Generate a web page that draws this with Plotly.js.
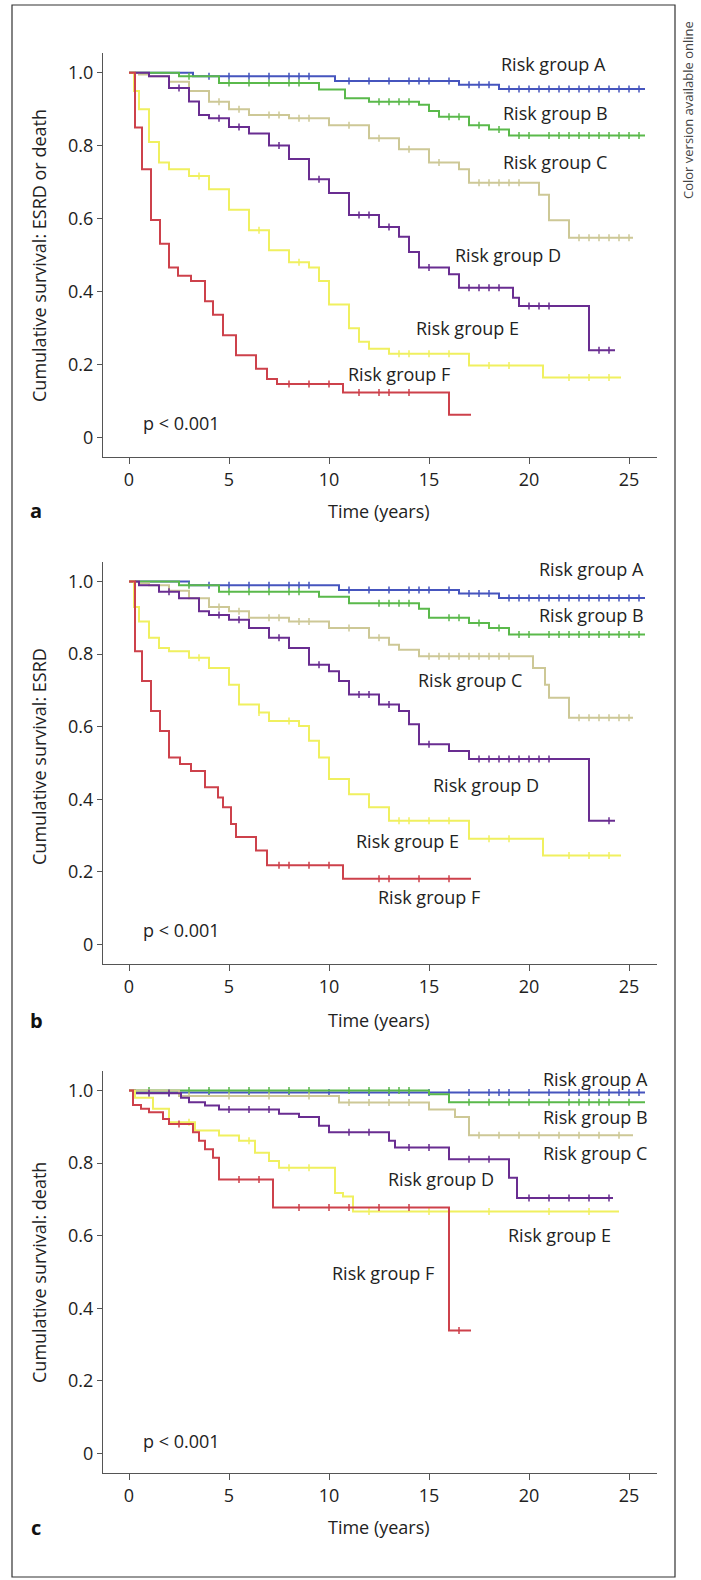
<!DOCTYPE html>
<html>
<head>
<meta charset="utf-8">
<script src="https://cdn.plot.ly/plotly-3.0.1.min.js"></script>
<style>body{margin:0;background:#fff}#chart{width:701px;height:1580px}</style>
</head>
<body>
<div id="chart"></div>
<script>
// Kaplan-Meier curves, three panels (a: ESRD or death, b: ESRD, c: death)
var groups = ['A', 'B', 'C', 'D', 'E', 'F'];
var colors = ['rgb(70,85,190)', 'rgb(90,185,75)', 'rgb(205,200,150)', 'rgb(105,45,145)', 'rgb(240,240,95)', 'rgb(205,65,75)'];

// panel a
var a_t = [
  [0, 3.2, 10.3, 16.5, 18.5, 25.8],
  [0, 2.5, 4.5, 9.5, 10.8, 12, 14.5, 15, 15.5, 17, 18, 19, 25.8],
  [0, 0.5, 1, 2, 3, 4, 5, 6, 8, 10, 12, 13.5, 15, 16.5, 17, 20.5, 21, 22, 25.2],
  [0, 1, 2, 3, 3.5, 4, 5, 6, 7, 8, 9, 10, 11, 12.5, 13.5, 14, 14.5, 16, 16.5, 19.2, 19.5, 23, 24.3],
  [0, 0.25, 0.5, 1, 1.5, 2, 3, 4, 5, 6, 7, 8, 9, 9.5, 10, 11, 11.5, 12, 13, 17, 20.7, 24.6],
  [0, 0.3, 0.65, 1.1, 1.55, 2, 2.45, 3.1, 3.8, 4.2, 4.7, 5.35, 6.35, 6.9, 7.4, 10.7, 16, 17.1]
];
var a_s = [
  [1, 0.99, 0.977, 0.967, 0.955, 0.955],
  [1, 0.99, 0.972, 0.954, 0.93, 0.92, 0.912, 0.895, 0.879, 0.856, 0.844, 0.828, 0.828],
  [1, 0.995, 0.99, 0.975, 0.95, 0.92, 0.9, 0.884, 0.875, 0.856, 0.82, 0.79, 0.754, 0.735, 0.698, 0.665, 0.595, 0.547, 0.547],
  [1, 0.99, 0.958, 0.921, 0.884, 0.875, 0.851, 0.833, 0.8, 0.763, 0.708, 0.67, 0.61, 0.577, 0.55, 0.508, 0.466, 0.447, 0.41, 0.383, 0.36, 0.239, 0.239],
  [1, 0.95, 0.9, 0.81, 0.754, 0.735, 0.717, 0.68, 0.624, 0.568, 0.513, 0.48, 0.466, 0.429, 0.364, 0.299, 0.262, 0.243, 0.229, 0.197, 0.164, 0.164],
  [1, 0.85, 0.735, 0.596, 0.531, 0.466, 0.443, 0.429, 0.373, 0.336, 0.28, 0.225, 0.188, 0.16, 0.146, 0.123, 0.062, 0.062]
];
var a_cens = [
  [4, 5, 6, 7, 8, 8.5, 9, 11, 12, 13, 14, 14.5, 15, 16, 17, 17.5, 18, 19, 19.5, 20, 20.5, 21, 21.5, 22, 22.5, 23, 23.5, 24, 24.5, 25, 25.5],
  [3, 5, 6, 7, 8, 8.5, 12.5, 13, 13.5, 14, 16, 16.5, 17.5, 18.5, 19.5, 20, 21, 21.5, 22, 22.5, 23, 23.5, 24, 24.5, 25, 25.5],
  [4.5, 5.5, 7, 7.5, 8.5, 9, 11, 12.5, 14, 15.5, 17.5, 18, 18.5, 19, 19.5, 22.5, 23, 23.5, 24, 24.5, 25],
  [2.5, 4.5, 5.5, 7.5, 9.5, 11.5, 12, 13, 15, 17, 17.5, 18, 18.5, 20, 20.5, 21, 23.5, 24],
  [3.5, 6.5, 8.5, 13.5, 14, 15, 16, 18, 19, 22, 23, 24],
  [8, 9, 10, 11.5, 12.5, 13, 14]
];

// panel b
var b_t = [
  [0, 3, 10.5, 16.5, 18.5, 25.8],
  [0, 2.5, 4.5, 9.5, 11, 14.5, 15, 17, 18, 19, 25.8],
  [0, 0.5, 1, 2, 3, 4, 5, 6, 8, 10, 12, 13, 13.5, 14.5, 20.2, 20.8, 21, 22, 25.2],
  [0, 0.5, 1.5, 2.5, 3.5, 4, 5, 6, 7, 8, 9, 10, 10.5, 11, 12.5, 13.5, 14, 14.5, 16, 17, 23, 24.3],
  [0, 0.25, 0.5, 1, 1.5, 2, 3, 4, 5, 5.5, 6.5, 7, 8.5, 9, 9.5, 10, 11, 12, 13, 17, 20.7, 24.6],
  [0, 0.3, 0.65, 1.1, 1.55, 2, 2.55, 3.1, 3.8, 4.45, 4.7, 5.1, 5.35, 6.35, 6.9, 10.7, 17.1]
];
var b_s = [
  [1, 0.99, 0.977, 0.967, 0.955, 0.955],
  [1, 0.99, 0.972, 0.958, 0.94, 0.925, 0.9, 0.886, 0.872, 0.854, 0.854],
  [1, 0.995, 0.99, 0.975, 0.954, 0.93, 0.918, 0.9, 0.89, 0.872, 0.845, 0.826, 0.812, 0.794, 0.762, 0.716, 0.68, 0.625, 0.625],
  [1, 0.99, 0.972, 0.954, 0.918, 0.908, 0.895, 0.872, 0.845, 0.817, 0.771, 0.753, 0.726, 0.689, 0.661, 0.643, 0.607, 0.552, 0.533, 0.511, 0.341, 0.341],
  [1, 0.93, 0.89, 0.845, 0.817, 0.808, 0.79, 0.762, 0.716, 0.661, 0.639, 0.616, 0.602, 0.561, 0.515, 0.456, 0.414, 0.378, 0.341, 0.291, 0.245, 0.245],
  [1, 0.808, 0.726, 0.643, 0.588, 0.515, 0.497, 0.478, 0.433, 0.405, 0.378, 0.332, 0.296, 0.259, 0.218, 0.181, 0.181]
];
var b_cens = [
  [4, 5, 6, 7, 8, 8.5, 9, 11, 12, 13, 14, 14.5, 15, 16, 17, 17.5, 18, 19, 19.5, 20, 20.5, 21, 21.5, 22, 22.5, 23, 23.5, 24, 24.5, 25, 25.5],
  [3, 5, 6, 7, 8, 8.5, 12.5, 13, 13.5, 14, 16, 16.5, 17.5, 18.5, 19.5, 20, 21, 21.5, 22, 22.5, 23, 23.5, 24, 24.5, 25, 25.5],
  [4.5, 5.5, 7, 7.5, 8.5, 9, 11, 12.5, 15, 15.5, 16, 16.5, 17, 17.5, 18, 18.5, 19, 22.5, 23, 23.5, 24, 24.5, 25],
  [2, 4.5, 5.5, 7.5, 9.5, 11.5, 12, 13, 15, 17.5, 18, 18.5, 19, 19.5, 20, 20.5, 21, 24],
  [3.5, 6.5, 8, 13.5, 14, 15, 16, 18, 19, 22, 23, 24],
  [7.5, 8, 9, 10, 12.5, 13, 14.5, 16]
];

// panel c
var c_t = [
  [0, 0.3, 25.8],
  [0, 15, 16, 25.8],
  [0, 2.5, 10.5, 15, 16.3, 17, 25.2],
  [0, 0.3, 2.6, 3, 3.8, 4.5, 7.5, 8.5, 9.5, 10, 13, 13.3, 16, 19, 19.4, 24.2],
  [0, 0.3, 1.2, 2, 3.3, 4.5, 5.5, 6.3, 7, 7.5, 10.3, 10.7, 11.2, 24.5],
  [0, 0.2, 0.6, 1, 1.7, 2, 3.2, 3.5, 3.8, 4.2, 4.5, 7.2, 16, 17.1]
];
var c_s = [
  [1, 0.995, 0.995],
  [1, 0.99, 0.968, 0.968],
  [1, 0.985, 0.967, 0.948, 0.927, 0.877, 0.877],
  [1, 0.993, 0.98, 0.968, 0.959, 0.948, 0.936, 0.927, 0.903, 0.885, 0.862, 0.843, 0.811, 0.76, 0.704, 0.704],
  [1, 0.98, 0.95, 0.913, 0.89, 0.876, 0.862, 0.829, 0.806, 0.787, 0.718, 0.708, 0.667, 0.667],
  [1, 0.96, 0.95, 0.94, 0.922, 0.908, 0.885, 0.862, 0.838, 0.815, 0.755, 0.678, 0.339, 0.339]
];
var c_cens = [
  [2, 4, 6, 8, 10, 12, 13, 14, 15, 16, 17, 18, 18.5, 19, 20, 21, 22, 22.5, 23, 23.5, 24, 24.5, 25, 25.5],
  [1, 3, 4, 5, 6, 7, 8, 9, 11, 12, 13, 13.5, 14, 17, 18, 19, 20, 21, 22, 22.5, 23, 23.5, 24, 25],
  [3, 5, 7, 9, 11, 12, 13, 14, 17.5, 18.5, 19.5, 20.5, 21.5, 22.5, 23.5, 24.5],
  [1, 2, 5, 6, 7, 11, 12, 14, 15, 17, 18, 20, 21, 22, 23, 24],
  [3, 6, 8, 9, 12, 15, 18, 21, 23],
  [2.5, 5.5, 6.5, 8.5, 10, 11, 12.5, 14, 16.5]
];

var panel_t = [a_t, b_t, c_t];
var panel_s = [a_s, b_s, c_s];
var panel_cens = [a_cens, b_cens, c_cens];
var panel_ytitles = ['Cumulative survival: ESRD or death', 'Cumulative survival: ESRD', 'Cumulative survival: death'];
var panel_letters = ['a', 'b', 'c'];

// label positions (data coords) for each panel
var label_x = [[21.2, 21.3, 21.3, 18.95, 16.9, 13.5], [23.1, 23.1, 17.05, 17.85, 13.9, 15.0], [23.3, 23.3, 23.3, 15.6, 21.5, 12.7]];
var label_y = [[1.023, 0.889, 0.756, 0.499, 0.301, 0.174], [1.035, 0.907, 0.73, 0.44, 0.286, 0.131], [1.033, 0.927, 0.827, 0.755, 0.602, 0.497]];

// pixel layout of the panels
var H = 1580, W = 701;
var y_dom = [[457, 53], [964, 562], [1473, 1071]];
var ytitle_y = [256, 757, 1273];
var letter_y = [511, 1020, 1527];

function step_value(t, s, x){
    var v = s[0];
    for (var i = 0; i < t.length; i++){
        if (t[i] <= x) v = s[i];
    }
    return v;
}

// paper annotation, always centred on the given pixel
function paper_text(px, py, text, size, angle, color){
    return {xref: 'paper', yref: 'paper', x: px / W, y: 1 - py / H, xanchor: 'center', yanchor: 'middle',
            textangle: angle || 0, text: text, showarrow: false, font: {size: size, color: color || '#222'}};
}

var data = [];
var layout = {
    width: W, height: H,
    margin: {l: 0, r: 0, t: 0, b: 0},
    paper_bgcolor: '#fff', plot_bgcolor: '#fff',
    showlegend: false,
    font: {family: 'Open Sans, sans-serif', size: 18, color: '#222'},
    annotations: [],
    shapes: [{type: 'rect', xref: 'paper', yref: 'paper', x0: 12 / W, x1: 675 / W, y0: 1 - 1577 / H, y1: 1 - 5 / H,
              line: {color: '#333', width: 1.2}}]
};

for (var p = 0; p < 3; p++){
    var xa = p == 0 ? 'x' : 'x' + (p + 1);
    var ya = p == 0 ? 'y' : 'y' + (p + 1);
    for (var g = 0; g < 6; g++){
        var t = panel_t[p][g], s = panel_s[p][g];
        data.push({x: t, y: s, xaxis: xa, yaxis: ya, type: 'scatter', mode: 'lines',
                   line: {shape: 'hv', color: colors[g], width: 2}, hoverinfo: 'skip'});
        var cx = panel_cens[p][g];
        var cy = cx.map(function(x){ return step_value(t, s, x); });
        data.push({x: cx, y: cy, xaxis: xa, yaxis: ya, type: 'scatter', mode: 'markers',
                   marker: {symbol: 'line-ns-open', size: 5, color: colors[g], line: {width: 1.5, color: colors[g]}},
                   hoverinfo: 'skip'});
        layout.annotations.push({xref: xa, yref: ya, x: label_x[p][g], y: label_y[p][g], text: 'Risk group ' + groups[g],
                                 xanchor: 'center', yanchor: 'middle', showarrow: false, font: {size: 18, color: '#222'}});
    }
    layout.annotations.push({xref: xa, yref: ya, x: 0.6, y: [0.039, 0.039, 0.035][p], xanchor: 'left', yanchor: 'middle',
                             text: 'p < 0.001', showarrow: false, font: {size: 18, color: '#222'}});
    layout.annotations.push(paper_text(39, ytitle_y[p], panel_ytitles[p], 18, -90));
    layout.annotations.push(paper_text(379, letter_y[p], 'Time (years)', 18));
    layout.annotations.push(paper_text(36, letter_y[p], '<b>' + panel_letters[p] + '</b>', 20, 0, '#111'));

    var xkey = p == 0 ? 'xaxis' : 'xaxis' + (p + 1);
    var ykey = p == 0 ? 'yaxis' : 'yaxis' + (p + 1);
    layout[xkey] = {domain: [103 / W, 657 / W], anchor: ya, range: [-1.3, 26.4],
                    tickvals: [0, 5, 10, 15, 20, 25], showgrid: false, zeroline: false,
                    showline: true, linecolor: '#555', linewidth: 1.2, ticks: 'outside', ticklen: 6,
                    tickcolor: '#555', tickfont: {size: 18}};
    layout[ykey] = {domain: [1 - y_dom[p][0] / H, 1 - y_dom[p][1] / H], anchor: xa, range: [-0.054, 1.054],
                    tickvals: [0, 0.2, 0.4, 0.6, 0.8, 1.0], ticktext: ['0', '0.2', '0.4', '0.6', '0.8', '1.0'],
                    showgrid: false, zeroline: false, showline: true, linecolor: '#555', linewidth: 1.2,
                    ticks: 'outside', ticklen: 5, tickcolor: '#555', tickfont: {size: 18}};
}

layout.annotations.push(paper_text(688, 110, 'Color version available online', 13, -90, '#444'));

Plotly.newPlot('chart', data, layout, {staticPlot: true});
</script>
</body>
</html>
